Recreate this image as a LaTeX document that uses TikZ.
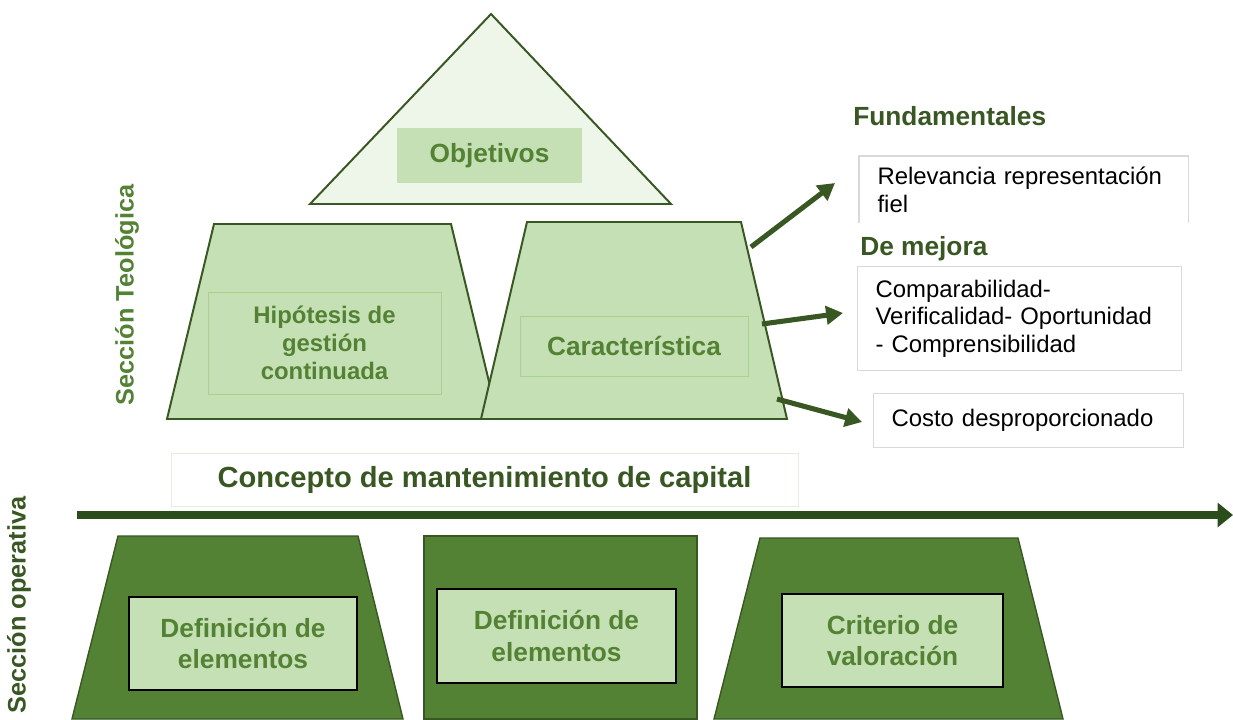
\documentclass[tikz,border=0pt]{standalone}
\usepackage{fontspec}
\setmainfont{Liberation Sans}
\usetikzlibrary{arrows.meta}

\definecolor{dgreen}{HTML}{385723}
\definecolor{tgreen}{HTML}{2B4C1D}
\definecolor{mgreen}{HTML}{548235}
\definecolor{lgreen}{HTML}{C5E0B4}
\definecolor{bgreen}{HTML}{A9D18E}
\definecolor{vlgreen}{HTML}{EEF6EA}
\definecolor{pgreen}{HTML}{E2F0D9}
\definecolor{lgray}{HTML}{D9D9D9}

\tikzset{
  toptrap/.style={fill=lgreen, draw=dgreen, line width=1.4pt},
  optrap/.style={fill=mgreen, draw=dgreen, line width=1pt},
  inbox/.style={draw=bgreen, line width=0.5pt, text=mgreen, align=center, font=\fontsize{18.7}{22}\selectfont\bfseries},
  opbox/.style={fill=lgreen, draw=black, line width=0.8pt, text=mgreen, align=center, font=\fontsize{18.7}{22.5}\selectfont\bfseries},
  tbox/.style={draw=lgray, line width=0.8pt, anchor=north west, align=left, inner xsep=0.45cm, font=\fontsize{17}{19.6}\selectfont},
  ttl/.style={anchor=west, inner sep=0pt, text=dgreen, font=\fontsize{18.7}{22}\selectfont\bfseries},
  conn/.style={draw=dgreen, line width=3.6pt, -{Triangle[length=12pt, width=13pt]}},
  timeline/.style={draw=tgreen, line width=5pt, -{Triangle[length=11pt, width=17pt]}},
  side/.style={rotate=90, inner sep=0pt, font=\fontsize{18}{21}\selectfont\bfseries},
}

\begin{document}
\begin{tikzpicture}[x=0.025cm, y=-0.025cm]

  \useasboundingbox (0,0) rectangle (1233,719);

  \draw [fill=vlgreen, draw=dgreen, line width=1.4pt] (491,14) -- (671,204) -- (310,204) -- cycle;
  \node (obj) [fill=lgreen, text=mgreen, font=\fontsize{18.7}{22}\selectfont\bfseries, minimum width=4.625cm, minimum height=1.375cm] at (489.5,155.5) {Objetivos};

  \draw [toptrap] (214,224) -- (451,224) -- (498,419) -- (167,419) -- cycle;
  \draw [toptrap] (527,222) -- (741,222) -- (787,419) -- (481,419) -- cycle;
  \node (hip) [inbox, font=\fontsize{17}{20}\selectfont\bfseries, minimum width=5.825cm, minimum height=2.55cm] at (324.5,343) {Hipótesis de\\gestión\\continuada};
  \node (car) [inbox, minimum width=5.7cm, minimum height=1.5cm] at (634,346) {Característica};

  \node (tfund) [ttl] at (853,116) {Fundamentales};
  \node (fund) [tbox, draw=none, text width=7.3cm, minimum height=1.65cm] at (859,156) {Relevancia representación\\fiel};
  \draw [lgray, line width=0.8pt] (fund.south west) |- (fund.north east) -- (fund.south east);
  \node (tmej) [ttl] at (860,249) {De mejora};
  \node (mej) [tbox, text width=7.2cm, minimum height=2.6cm] at (857,266) {Comparabilidad-\\Verificalidad- Oportunidad\\- Comprensibilidad};
  \node (cost) [tbox, text width=6.85cm, minimum height=1.35cm] at (873,393) {Costo desproporcionado};

  \coordinate (c1) at (751,247);
  \coordinate (c2) at (762,324);
  \coordinate (c3) at (777,399);
  \coordinate (e1) at (835,183);
  \coordinate (e2) at (843,313);
  \coordinate (e3) at (862,422);
  \draw [conn] (c1) -- (e1);
  \draw [conn] (c2) -- (e2);
  \draw [conn] (c3) -- (e3);

  \node (conc) [draw=pgreen, line width=0.6pt, text=dgreen, font=\fontsize{20.7}{24}\selectfont\bfseries, minimum width=15.675cm, minimum height=1.325cm] at (484.5,479.5) {Concepto de mantenimiento de capital};

  \coordinate (t0) at (77,515);
  \coordinate (t1) at (1233,515);
  \draw [timeline] (t0) -- (t1);

  \draw [optrap] (118,536) -- (358,536) -- (403,719) -- (72,719) -- cycle;
  \draw [optrap] (424,536) rectangle (697,719);
  \draw [optrap] (760,538) -- (1018,538) -- (1063,719) -- (714,719) -- cycle;
  \node (def1) [opbox, minimum width=5.7cm, minimum height=2.325cm] at (243,643.5) {Definición de\\elementos};
  \node (def2) [opbox, minimum width=5.975cm, minimum height=2.35cm] at (556.5,636) {Definición de\\elementos};
  \node (crit) [opbox, minimum width=5.525cm, minimum height=2.325cm] at (892.5,640.5) {Criterio de\\valoración};

  \node (teo) [side, text=mgreen] at (127,295) {Sección Teológica};
  \node (ope) [side, text=dgreen] at (19,605) {Sección operativa};

\end{tikzpicture}
\end{document}
